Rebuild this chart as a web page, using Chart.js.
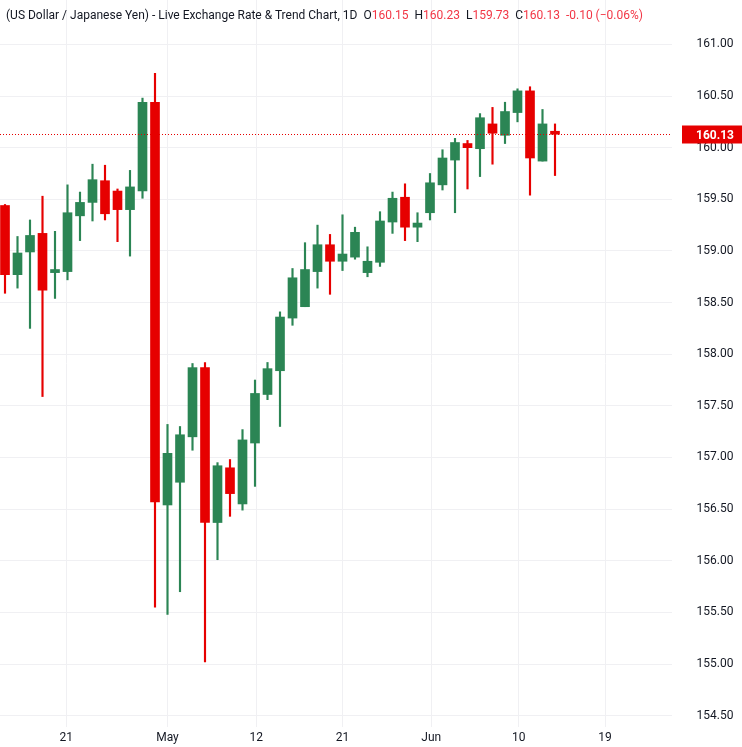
<!DOCTYPE html>
<html>
<head>
<meta charset="utf-8">
<script src="https://cdn.jsdelivr.net/npm/chart.js@4.4.1/dist/chart.umd.min.js"></script>
<style>
  html, body { margin: 0; padding: 0; background: #fff; }
  #wrap { position: relative; width: 742px; height: 747px; }
  #head { position: absolute; left: 6px; top: 8px; font: 12px Roboto, "Liberation Sans", sans-serif; color: #131722; white-space: nowrap; }
  #head .r { color: #f23645; }
</style>
</head>
<body>
<div id="wrap">
  <canvas id="c" width="742" height="747"></canvas>
  <div id="head">(US Dollar / Japanese Yen) - Live Exchange Rate &amp; Trend Chart, 1D &nbsp;O<span class="r">160.15</span> &nbsp;H<span class="r">160.23</span> &nbsp;L<span class="r">159.73</span> &nbsp;C<span class="r">160.13</span> &nbsp;<span class="r">-0.10 (−0.06%)</span></div>
</div>
<script>
// daily candles, one per trading day (index 0 = first bar on the left)
const opens  = [159.44,158.77,158.99,159.17,158.79,158.80,159.34,159.47,159.68,159.58,159.40,159.58,160.44,156.54,156.76,157.20,157.87,156.37,156.90,156.55,157.14,157.61,157.84,158.35,158.46,158.80,159.06,158.90,158.94,158.79,158.89,159.28,159.52,159.23,159.37,159.64,159.88,160.04,159.99,160.23,160.12,160.34,160.55,159.87,160.15];
const highs  = [159.45,159.14,159.30,159.53,159.19,159.64,159.57,159.84,159.83,159.60,159.78,160.48,160.72,157.32,157.30,157.91,157.92,156.95,156.98,157.27,157.75,157.92,158.41,158.83,159.08,159.25,159.16,159.35,159.23,159.04,159.38,159.57,159.65,159.37,159.75,159.98,160.09,160.07,160.33,160.39,160.44,160.57,160.59,160.37,160.23];
const lows   = [158.59,158.64,158.25,157.59,158.54,158.72,159.10,159.29,159.30,159.09,158.95,159.51,155.55,155.48,155.70,157.07,155.02,156.01,156.43,156.49,156.72,157.56,157.30,158.28,158.46,158.64,158.58,158.81,158.92,158.75,158.85,159.17,159.10,159.09,159.30,159.59,159.37,159.60,159.72,159.84,160.04,160.25,159.54,159.87,159.73];
const closes = [158.77,158.98,159.15,158.62,158.82,159.37,159.47,159.69,159.36,159.40,159.62,160.44,156.57,157.04,157.22,157.87,156.37,156.92,156.65,157.17,157.62,157.86,158.36,158.74,158.82,159.06,158.90,158.97,159.18,158.90,159.29,159.51,159.23,159.27,159.66,159.90,160.05,160.00,160.29,160.14,160.35,160.55,159.90,160.23,160.13];

const xTickPos    = [4.9, 13.0, 20.1, 27.0, 34.1, 41.1, 48.0];
const xTickLabels = ['21', 'May', '12', '21', 'Jun', '10', '19'];
const yTicks = [154.5, 155, 155.5, 156, 156.5, 157, 157.5, 158, 158.5, 159, 159.5, 160, 160.5, 161];
const lastPrice = 160.13;

const UP = '#2b8554', DOWN = '#e60000';
const FONT = 'Roboto, "Liberation Sans", sans-serif';
const colors = closes.map((c, i) => c >= opens[i] ? UP : DOWN);

const wickData = highs.map((h, i) => ({ x: i, y: [lows[i], h] }));
const bodyData = opens.map((o, i) => ({ x: i, y: [Math.min(o, closes[i]), Math.max(o, closes[i])] }));

// price labels on the right axis + last price line and tag
const priceAxisPlugin = {
  id: 'priceAxis',
  afterDatasetsDraw(chart) {
    const { ctx, chartArea, scales } = chart;
    ctx.save();
    ctx.fillStyle = '#131722';
    ctx.font = '12px ' + FONT;
    ctx.textAlign = 'center';
    ctx.textBaseline = 'middle';
    yTicks.forEach(v => ctx.fillText(v.toFixed(2), chartArea.right + 43, scales.y.getPixelForValue(v)));

    const y = Math.round(scales.y.getPixelForValue(lastPrice)) + 0.5;
    ctx.strokeStyle = DOWN;
    ctx.lineWidth = 1;
    ctx.setLineDash([1, 2]);
    ctx.beginPath();
    ctx.moveTo(chartArea.left, y);
    ctx.lineTo(chartArea.right, y);
    ctx.stroke();
    ctx.setLineDash([]);
    ctx.fillStyle = DOWN;
    ctx.fillRect(chartArea.right + 10, y - 9, 742 - chartArea.right - 10, 18);
    ctx.fillStyle = '#fff';
    ctx.font = 'bold 12px ' + FONT;
    ctx.fillText(lastPrice.toFixed(2), chartArea.right + 43, y + 1);
    ctx.restore();
  }
};

new Chart(document.getElementById('c'), {
  type: 'bar',
  data: {
    datasets: [
      { data: wickData, backgroundColor: colors, barThickness: 1.5, grouped: false, order: 2 },
      { data: bodyData, backgroundColor: colors, barThickness: 9, minBarLength: 3, grouped: false, order: 1 }
    ]
  },
  plugins: [priceAxisPlugin],
  options: {
    responsive: false,
    animation: false,
    layout: { padding: 0, autoPadding: false },
    plugins: { legend: { display: false }, tooltip: { enabled: false } },
    scales: {
      x: {
        type: 'linear', min: -0.4, max: 53.36, offset: false,
        afterBuildTicks: ax => { ax.ticks = xTickPos.map(v => ({ value: v })); },
        afterFit: ax => { ax.height = 20; },
        grid: { color: '#f0f0f3', drawTicks: false, offset: false },
        border: { display: false },
        ticks: {
          color: '#131722', font: { size: 12, family: FONT }, padding: 4,
          maxRotation: 0, autoSkip: false,
          callback: (v, i) => xTickLabels[i]
        }
      },
      y: {
        position: 'right', min: 154.39, max: 161.43,
        afterBuildTicks: ax => { ax.ticks = yTicks.map(v => ({ value: v })); },
        afterFit: ax => { ax.width = 70; },
        grid: { color: '#f0f0f3', drawTicks: false },
        border: { display: false },
        ticks: { display: false }
      }
    }
  }
});
</script>
</body>
</html>
